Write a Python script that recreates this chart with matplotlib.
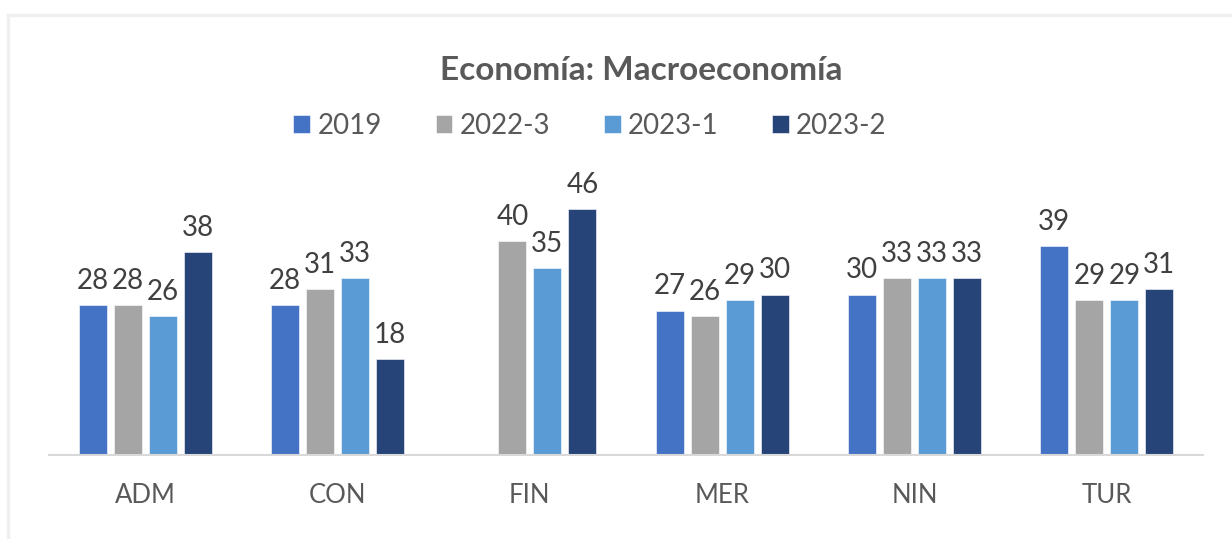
import numpy as np
import matplotlib.pyplot as plt
from matplotlib.patches import Rectangle

# ==========================================================
# DATA
# ==========================================================

categories = ["ADM", "CON", "FIN", "MER", "NIN", "TUR"]
series_names = ["2019", "2022-3", "2023-1", "2023-2"]

v2019 = [28, 28, None, 27, 30, 39]
v2022_3 = [28, 31, 40, 26, 33, 29]
v2023_1 = [26, 33, 35, 29, 33, 29]
v2023_2 = [38, 18, 46, 30, 33, 31]

colors = ["#4472C4", "#A5A5A5", "#5B9BD5", "#264478"]

# ==========================================================
# FIGURE
# ==========================================================

plt.rcParams["font.family"] = ["Lato", "DejaVu Sans"]

fig = plt.figure(figsize=(12.32, 5.39), dpi=100)

# light chart border like Excel
fig.patches.append(Rectangle((8 / 1232, -0.1), 1.2, (539 - 15) / 539 + 0.1,
                             transform=fig.transFigure, fill=False,
                             edgecolor="#EFEFEF", linewidth=2.5))

ax = fig.add_axes([49 / 1232, 84 / 539, 1154 / 1232, 267.5 / 539])

x = np.arange(len(categories))
width = 0.1456
step = 0.182
all_series = [v2019, v2022_3, v2023_1, v2023_2]

for i, (name, vals) in enumerate(zip(series_names, all_series)):
    offs = (i - 1.5) * step
    xs = [xx + offs for xx, v in zip(x, vals) if v is not None]
    ys = [v for v in vals if v is not None]
    ax.bar(xs, ys, width=width, color=colors[i], label=name,
           edgecolor="white", linewidth=0.4)
    for bx, by in zip(xs, ys):
        ax.annotate(str(by), (bx, by), xytext=(0, 8), textcoords="offset points",
                    ha="center", va="bottom", fontsize=20, color="#404040",
                    clip_on=False)

ax.set_xlim(-0.5, len(categories) - 0.5)
ax.set_ylim(0, 50)
ax.set_yticks([])
ax.set_xticks(x)
ax.set_xticklabels(categories, fontsize=18.5, color="#595959")
ax.tick_params(axis="x", length=0, pad=20)

for side in ["top", "right", "left"]:
    ax.spines[side].set_visible(False)
ax.spines["bottom"].set_color("#D9D9D9")
ax.spines["bottom"].set_linewidth(1.5)

fig.text(641 / 1232, 1 - 71 / 539, "Economía: Macroeconomía", ha="center", va="center",
         fontsize=24, fontweight="bold", color="#595959")

fig.legend(loc="center", bbox_to_anchor=(590 / 1232, 1 - 126 / 539), ncol=4,
           frameon=False, fontsize=20, labelcolor="#595959",
           handlelength=0.61, handleheight=0.61, handletextpad=0.25,
           columnspacing=1.94)

fig.savefig("out.png", dpi=100)
